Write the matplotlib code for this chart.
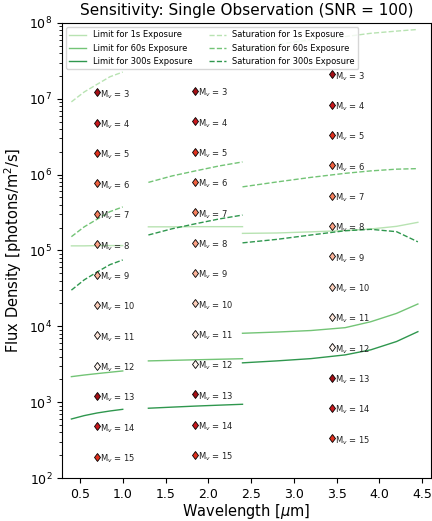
import numpy as np
import matplotlib
matplotlib.use('Agg')
import matplotlib.pyplot as plt

# wavelength samples for the three bands
wl_b1 = [0.4, 0.55, 0.7, 0.85, 1.0]
wl_b2 = [1.3, 1.575, 1.85, 2.125, 2.4]
wl_b3 = [2.4, 2.8, 3.2, 3.6, 3.9, 4.2, 4.45]

# limiting flux (photons/m^2/s)
lim1_b1 = [1.15e5, 1.15e5, 1.16e5, 1.16e5, 1.16e5]
lim60_b1 = [2.17e3, 2.28e3, 2.38e3, 2.48e3, 2.58e3]
lim300_b1 = [600, 665, 720, 765, 805]
lim1_b2 = [2.05e5, 2.05e5, 2.06e5, 2.06e5, 2.06e5]
lim60_b2 = [3.5e3, 3.56e3, 3.62e3, 3.68e3, 3.74e3]
lim300_b2 = [832, 860, 888, 913, 938]
lim1_b3 = [1.68e5, 1.7e5, 1.76e5, 1.83e5, 1.92e5, 2.08e5, 2.35e5]
lim60_b3 = [8.1e3, 8.4e3, 8.8e3, 9.6e3, 1.15e4, 1.48e4, 1.97e4]
lim300_b3 = [3.3e3, 3.5e3, 3.75e3, 4.2e3, 4.9e3, 6.3e3, 8.5e3]

# saturation flux
sat1_b1 = [9.1e6, 1.23e7, 1.55e7, 1.95e7, 2.25e7]
sat60_b1 = [1.52e5, 2.05e5, 2.58e5, 3.25e5, 3.75e5]
sat300_b1 = [3.0e4, 4.1e4, 5.2e4, 6.5e4, 7.5e4]
sat60_b2 = [7.9e5, 9.6e5, 1.12e6, 1.3e6, 1.47e6]
sat300_b2 = [1.6e5, 1.93e5, 2.25e5, 2.6e5, 2.93e5]
sat1_b3 = [4.5e7, 5.2e7, 6.0e7, 6.6e7, 7.3e7, 7.8e7, 8.2e7]
sat60_b3 = [6.9e5, 8.0e5, 9.2e5, 1.04e6, 1.12e6, 1.18e6, 1.2e6]
sat300_b3 = [1.26e5, 1.4e5, 1.6e5, 1.82e5, 1.9e5, 1.77e5, 1.3e5]

# star magnitudes and their fluxes at band centres
mags = [3, 4, 5, 6, 7, 8, 9, 10, 11, 12, 13, 14, 15]
centres = [0.7, 1.85, 3.45]
star_b1 = [1.21e7, 4.82e6, 1.92e6, 7.64e5, 3.04e5, 1.21e5, 4.82e4, 1.92e4, 7.64e3, 3.04e3, 1.21e3, 482, 192]
star_b2 = [1.27e7, 5.06e6, 2.01e6, 8.02e5, 3.19e5, 1.27e5, 5.06e4, 2.01e4, 8.02e3, 3.19e3, 1.27e3, 506, 201]
star_b3 = [2.11e7, 8.40e6, 3.34e6, 1.33e6, 5.30e5, 2.11e5, 8.40e4, 3.34e4, 1.33e4, 5.30e3, 2.11e3, 840, 334]
star_colors = ['#a50f15', '#c9181d', '#e0301e', '#f0603f', '#f6805e',
               '#fca286', '#fcb49b', '#fdd0bc', '#fee6da', '#fff5f0',
               '#a50f15', '#c9181d', '#e0301e']

c1 = plt.cm.Greens(0.3)
c60 = plt.cm.Greens(0.5)
c300 = plt.cm.Greens(0.7)

fig = plt.figure(figsize=(4.32, 5.21), dpi=100)
ax = fig.add_axes([0.1435, 0.0825, 0.8535, 0.8735])

bands = [
    (wl_b1, lim1_b1, lim60_b1, lim300_b1, sat1_b1, sat60_b1, sat300_b1),
    (wl_b2, lim1_b2, lim60_b2, lim300_b2, None, sat60_b2, sat300_b2),
    (wl_b3, lim1_b3, lim60_b3, lim300_b3, sat1_b3, sat60_b3, sat300_b3),
]
for i, (wl, l1, l60, l300, s1, s60, s300) in enumerate(bands):
    lab = (i == 0)
    ax.plot(wl, l1, color=c1, lw=1, label='Limit for 1s Exposure' if lab else None)
    ax.plot(wl, l60, color=c60, lw=1, label='Limit for 60s Exposure' if lab else None)
    ax.plot(wl, l300, color=c300, lw=1, label='Limit for 300s Exposure' if lab else None)
    if s1 is not None:
        ax.plot(wl, s1, '--', color=c1, lw=1, label='Saturation for 1s Exposure' if lab else None)
    ax.plot(wl, s60, '--', color=c60, lw=1, label='Saturation for 60s Exposure' if lab else None)
    ax.plot(wl, s300, '--', color=c300, lw=1, label='Saturation for 300s Exposure' if lab else None)

for xc, fl in zip(centres, [star_b1, star_b2, star_b3]):
    for m, f, col in zip(mags, fl, star_colors):
        ax.plot(xc, f, marker='d', ms=4.5, mfc=col, mec='black', mew=0.6, ls='none')
        ax.annotate('M$_v$ = %d' % m, (xc, f), xytext=(2, -1.5), textcoords='offset points',
                    fontsize=6, ha='left', va='center', color='#222222')

ax.set_yscale('log')
ax.set_ylim(1e2, 1e8)
ax.set_xlim(0.29, 4.6)
ax.set_xticks([0.5, 1.0, 1.5, 2.0, 2.5, 3.0, 3.5, 4.0, 4.5])
ax.tick_params(labelsize=9)
ax.set_xlabel(r'Wavelength [$\mu$m]', fontsize=10.5, labelpad=1)
ax.set_ylabel('Flux Density [photons/m$^2$/s]', fontsize=10.5)
ax.set_title('Sensitivity: Single Observation (SNR = 100)', fontsize=11)
ax.legend(loc='upper left', ncol=2, fontsize=6)

fig.savefig('out.png', dpi=100)
